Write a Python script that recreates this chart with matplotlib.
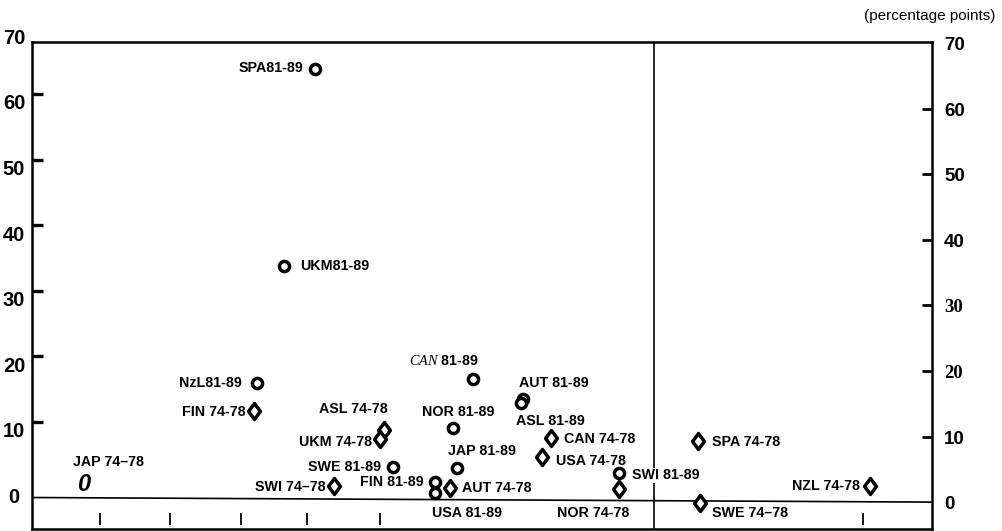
import matplotlib
matplotlib.use("Agg")
import matplotlib.pyplot as plt
from matplotlib.path import Path
from matplotlib.transforms import blended_transform_factory

plt.rcParams['font.family'] = ['Liberation Sans', 'DejaVu Sans']
plt.rcParams['mathtext.fontset'] = 'custom'
plt.rcParams['mathtext.it'] = 'Liberation Serif:italic'
plt.rcParams['mathtext.rm'] = 'Liberation Sans:bold'

# ---- data (x: arbitrary horizontal scale 0-100, y: percentage points) ----
labels_8189 = ["SPA81-89", "UKM81-89", "NzL81-89", "$\\mathit{CAN}$ 81-89", "AUT 81-89",
               "ASL 81-89", "NOR 81-89", "JAP 81-89", "SWE 81-89", "FIN 81-89",
               "USA 81-89", "SWI 81-89"]
x_8189 = [31.4, 28.0, 25.0, 49.0, 54.6, 54.3, 46.8, 47.2, 40.1, 44.8, 44.8, 65.2]
y_8189 = [65.3, 35.3, 17.4, 18.1, 15.0, 14.4, 10.6, 4.5, 4.65, 2.4, 0.7, 3.7]

labels_7478 = ["FIN 74-78", "ASL 74-78", "UKM 74-78", "SWI 74–78", "AUT 74-78",
               "CAN 74-78", "USA 74-78", "NOR 74-78", "SPA 74-78", "SWE 74–78",
               "NZL 74-78"]
x_7478 = [24.7, 39.1, 38.7, 33.6, 46.4, 57.7, 56.7, 65.2, 74.0, 74.2, 93.1]
y_7478 = [13.2, 10.3, 8.9, 1.75, 1.45, 9.1, 6.2, 1.3, 8.6, -0.8, 1.75]

labels_jap = ["JAP 74–78"]
x_jap = [5.7]
y_jap = [2.0]

y_tick_values = [0, 10, 20, 30, 40, 50, 60, 70]
x_divider = 69.1
x_minor_ticks = [7.6, 15.3, 23.2, 30.6, 38.7, 92.3]

# ---- label placement (pixel offsets, alignment) ----
offsets = {
    "SPA81-89": (-11, 1, "right"), "UKM81-89": (16, 0, "left"),
    "NzL81-89": (-15, 0, "right"), "$\\mathit{CAN}$ 81-89": (-29, 18, "center"),
    "AUT 81-89": (-4, 16, "left"), "ASL 81-89": (-5, -18, "left"),
    "NOR 81-89": (5, 16, "center"), "JAP 81-89": (25, 17, "center"),
    "SWE 81-89": (-12, 0, "right"), "FIN 81-89": (-12, 0, "right"),
    "USA 81-89": (-3, -20, "left"), "SWI 81-89": (13, -2, "left"),
    "FIN 74-78": (-9, -1, "right"), "ASL 74-78": (4, 21, "right"),
    "UKM 74-78": (-8, -3, "right"), "SWI 74–78": (-9, -1, "right"),
    "AUT 74-78": (12, 0, "left"), "CAN 74-78": (13, -1, "left"),
    "USA 74-78": (14, -4, "left"), "NOR 74-78": (-26, -24, "center"),
    "SPA 74-78": (14, -1, "left"), "SWE 74–78": (12, -10, "left"),
    "NZL 74-78": (-10, 0, "right"), "JAP 74–78": (25, 22, "center"),
}

fig = plt.figure(figsize=(10.03, 5.31), dpi=100)
ax = fig.add_axes([32 / 1003, 2 / 531, 900 / 1003, 487 / 531])
ax.set_xlim(0, 100)
ax.set_ylim(-4.80, 69.44)

for s in ax.spines.values():
    s.set_linewidth(1.8)

# reference lines
right_zero_shift = -0.7
ax.plot([0, 100], [0, right_zero_shift], color='black', lw=1.2, zorder=1)
ax.axvline(x_divider, color='black', lw=1.2, zorder=1)
ax.vlines(x_minor_ticks, -4.2, -2.4, color='black', lw=1.3)

# markers
ax.plot(x_8189, y_8189, linestyle='none', marker='o', ms=7.3, mew=2.5,
        mfc='white', mec='black', zorder=4)
diamond = Path([(0, 1), (0.74, 0), (0, -1), (-0.74, 0), (0, 1)],
               [Path.MOVETO, Path.LINETO, Path.LINETO, Path.LINETO, Path.CLOSEPOLY])
ax.plot(x_7478, y_7478, linestyle='none', marker=diamond, ms=11.5, mew=2.5,
        mfc='white', mec='black', zorder=4)
for x, y in zip(x_jap, y_jap):
    ax.text(x, y, "0", style='italic', fontweight='bold', fontsize=17,
            ha='center', va='center', zorder=4)

# labels
def put_labels(labs, xs, ys):
    for lab, x, y in zip(labs, xs, ys):
        dx, dy, ha = offsets[lab]
        kw = {}
        if lab.startswith("SWI 81"):
            kw['bbox'] = dict(facecolor='white', edgecolor='none', pad=0.5)
        ax.annotate(lab, (x, y), xytext=(dx, dy), textcoords='offset pixels',
                    ha=ha, va='center', fontsize=10.3, fontweight='bold', zorder=5, **kw)

put_labels(labels_8189, x_8189, y_8189)
put_labels(labels_7478, x_7478, y_7478)
put_labels(labels_jap, x_jap, y_jap)

# y ticks (marks) left and right
left_tick_shift = 1.5
ax.set_xticks([])
ax.set_yticks([v + left_tick_shift for v in y_tick_values[1:-1]])
ax.set_yticklabels([])
ax.tick_params(axis='y', direction='in', length=8, width=2.4, left=True, right=False)

ax2 = ax.twinx()
ax2.set_ylim(ax.get_ylim())
ax2.set_yticks([v + right_zero_shift for v in y_tick_values[1:-1]])
ax2.set_yticklabels([])
ax2.tick_params(axis='y', direction='in', length=7.5, width=2.0)
for s in ax2.spines.values():
    s.set_visible(False)

# y tick labels
tl = blended_transform_factory(ax.transAxes, ax.transData)
for v in y_tick_values:
    ax.text(-0.020, v, str(v), transform=tl, ha='center', va='center',
            fontsize=14.5, fontweight='bold', clip_on=False)
right_label_shift = -1.1
serif_vals = {20, 30}
for v in y_tick_values:
    fam = ['Liberation Serif'] if v in serif_vals else ['Liberation Sans']
    ax.text(1.0133, v + right_label_shift, str(v), transform=tl, ha='left', va='center',
            fontsize=13.5, fontweight='bold', family=fam, clip_on=False)

fig.text(995 / 1003, 1 - 16 / 531, "(percentage points)", ha='right', va='center', fontsize=11)

fig.savefig("out.png", dpi=100)
